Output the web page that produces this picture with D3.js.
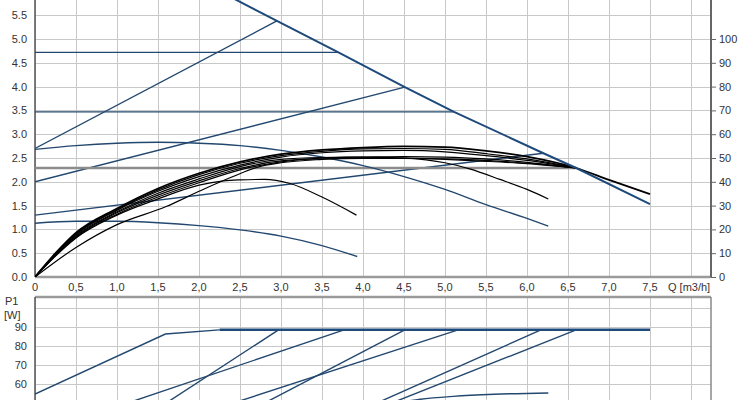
<!DOCTYPE html>
<html>
<head>
<meta charset="utf-8">
<script src="https://cdn.jsdelivr.net/npm/d3@7"></script>
<style>
body{margin:0;background:#fff;}
svg text{font-family:"Liberation Sans",Arial,sans-serif;font-size:11px;fill:#333;}
</style>
</head>
<body>
<div id="canvas"></div>
<script>
// ---- data ----
var qGrid = d3.range(0, 8.01, 0.5);
var qLabels = ['0','0,5','1,0','1,5','2,0','2,5','3,0','3,5','4,0','4,5','5,0','5,5','6,0','6,5','7,0','7,5'];
var hTicks = [0,0.5,1,1.5,2,2.5,3,3.5,4,4.5,5,5.5];
var hGrid = [0.5,1,1.5,2,2.5,3,3.5,4,4.5,5,5.5,6];
var rTicks = [0,10,20,30,40,50,60,70,80,90,100];
var pTicks = [60,70,80,90];
var pGrid = [50,60,70,80,90,100];

// max curve (top envelope)
var hEnvelope = [[2.40,5.87],[2.95,5.38],[3.70,4.72],[4.51,3.99],[5.11,3.47],[6.2,2.6],[6.6,2.29],[7.5,1.53]];
// constant pressure lines
var hConst1 = [[0,4.72],[3.70,4.72]];
var hConst2 = [[0,3.47],[5.11,3.47]];
var hConst3 = [[0,2.29],[6.6,2.29]];
// proportional pressure lines
var hProp1 = [[0,2.70],[2.95,5.38]];
var hProp2 = [[0,2.00],[4.51,3.99]];
var hProp3 = [[0,1.30],[6.2,2.6]];
// fixed speed curves (blue)
var hSpeedA = [[0,2.68],[0.5,2.76],[1,2.81],[1.5,2.83],[2,2.81],[2.5,2.76],[3,2.66],[3.5,2.52],[4,2.34],[4.5,2.11],[5,1.84],[5.5,1.52],[6,1.23],[6.26,1.07]];
var hSpeedB = [[0,1.13],[0.5,1.17],[1,1.17],[1.5,1.14],[2,1.08],[2.5,0.99],[3,0.86],[3.5,0.66],[3.93,0.43]];
// black curves
var hTop = [[0,0],[0.25,0.50],[0.5,0.93],[1,1.44],[1.5,1.86],[2,2.18],[2.5,2.42],[3,2.58],[3.5,2.67],[4,2.72],[4.5,2.745],[5,2.73],[5.5,2.65],[6,2.53],[6.6,2.29],[7,2.04],[7.5,1.74]];
var hM1 = [[0,0],[0.25,0.49],[0.5,0.91],[1,1.42],[1.5,1.83],[2,2.15],[2.5,2.39],[3,2.55],[3.5,2.64],[4,2.69],[4.5,2.70],[5,2.68],[5.5,2.59],[6,2.48],[6.6,2.29]];
var hM2 = [[0,0],[0.25,0.48],[0.5,0.89],[1,1.40],[1.5,1.80],[2,2.11],[2.5,2.35],[3,2.52],[3.5,2.61],[4,2.65],[4.5,2.66],[5,2.63],[5.5,2.55],[6,2.45],[6.6,2.29]];
var hF1 = [[0,0],[0.25,0.47],[0.5,0.87],[1,1.37],[1.5,1.76],[2,2.06],[2.5,2.32],[3,2.47],[3.5,2.51],[4,2.52],[4.5,2.53],[5,2.52],[5.5,2.48],[6,2.41],[6.6,2.29]];
var hF2 = [[0,0],[0.25,0.46],[0.5,0.85],[1,1.35],[1.5,1.72],[2,2.02],[2.5,2.28],[3,2.44],[3.5,2.48],[4,2.49],[4.5,2.49],[5,2.48],[5.5,2.45],[6,2.39],[6.6,2.29]];
var hD = [[0,0],[0.25,0.45],[0.5,0.83],[1,1.32],[1.5,1.68],[2,1.98],[2.5,2.25],[3,2.42],[3.5,2.50],[4,2.52],[4.5,2.50],[4.77,2.46],[5,2.40],[5.3,2.27],[5.67,2.05],[6,1.84],[6.26,1.64]];
var hE = [[0,0],[0.25,0.44],[0.5,0.82],[1,1.30],[1.5,1.64],[2,1.93],[2.3,2.02],[2.5,2.04],[2.8,2.05],[3.1,1.97],[3.5,1.68],[3.92,1.30]];
var hL = [[0,0],[0.5,0.62],[1,1.10],[1.6,1.48],[2,1.80],[2.4,2.10],[2.74,2.32],[3,2.40],[3.5,2.47],[4,2.50],[4.5,2.50],[5,2.47],[5.5,2.43],[6,2.38],[6.6,2.29]];

// power P1 [W]
var pLimit = [[2.25,88.5],[7.5,88.5]];
var pMax = [[0,54.7],[1.59,86.3],[2.25,88.5]];
var pLine1 = [[1.60,50],[2.97,88.5]];
var pLine2 = [[1.13,50],[3.77,88.5]];
var pLine3 = [[2.80,50],[4.51,88.5]];
var pLine4 = [[2.42,50],[5.16,88.5]];
var pLine5 = [[4.17,50],[6.17,88.5]];
var pLine6 = [[4.35,50],[6.60,88.5]];
var pLow = [[4.4,50],[4.7,52],[5.1,53.5],[5.6,54.6],[6.26,55.3]];

// ---- layout ----
var W = 748, H = 400;
var left = 35, right = 711, topBottom = 277, botTop = 297;

var svg = d3.select('#canvas').append('svg')
    .attr('width', W).attr('height', H);

var x = d3.scaleLinear().domain([0,7.5]).range([35,650]);
var y = d3.scaleLinear().domain([0,5.5]).range([277,15.2]);
var yR = d3.scaleLinear().domain([0,110]).range([277,15.2]);
var yP = d3.scaleLinear().domain([60,90]).range([384,327]);

var blue = '#23486f';

svg.append('clipPath').attr('id','clipTop').append('rect')
    .attr('x', left).attr('y', -20).attr('width', right-left).attr('height', topBottom+20);
svg.append('clipPath').attr('id','clipBot').append('rect')
    .attr('x', left).attr('y', botTop).attr('width', right-left).attr('height', 120);

// grid
var grid = svg.append('g').attr('stroke','#c8c8c8').attr('stroke-width',1);
grid.selectAll('.vt').data(qGrid).enter().append('line')
    .attr('x1', function(d){ return Math.round(x(d))+0.5; })
    .attr('x2', function(d){ return Math.round(x(d))+0.5; })
    .attr('y1', -5).attr('y2', topBottom);
grid.selectAll('.vb').data(qGrid).enter().append('line')
    .attr('x1', function(d){ return Math.round(x(d))+0.5; })
    .attr('x2', function(d){ return Math.round(x(d))+0.5; })
    .attr('y1', botTop).attr('y2', H);
grid.selectAll('.ht').data(hGrid).enter().append('line')
    .attr('x1', left).attr('x2', right)
    .attr('y1', function(d){ return Math.round(y(d))+0.5; })
    .attr('y2', function(d){ return Math.round(y(d))+0.5; });
grid.selectAll('.hb').data(pGrid).enter().append('line')
    .attr('x1', left).attr('x2', right)
    .attr('y1', function(d){ return Math.round(yP(d))+0.5; })
    .attr('y2', function(d){ return Math.round(yP(d))+0.5; });

// axes frame
svg.append('line').attr('x1',left).attr('x2',right).attr('y1',topBottom).attr('y2',topBottom)
    .attr('stroke','#9a9a9a').attr('stroke-width',2.5);
svg.append('line').attr('x1',left).attr('x2',right).attr('y1',botTop).attr('y2',botTop)
    .attr('stroke','#9a9a9a').attr('stroke-width',2.5);
svg.append('line').attr('x1',left).attr('x2',left).attr('y1',0).attr('y2',topBottom)
    .attr('stroke','#555').attr('stroke-width',1.5);
svg.append('line').attr('x1',left).attr('x2',left).attr('y1',botTop).attr('y2',H)
    .attr('stroke','#555').attr('stroke-width',1.5);
svg.append('line').attr('x1',right).attr('x2',right).attr('y1',0).attr('y2',topBottom)
    .attr('stroke','#666').attr('stroke-width',2);
svg.append('line').attr('x1',right).attr('x2',right).attr('y1',botTop).attr('y2',H)
    .attr('stroke','#888').attr('stroke-width',1.5);

// right axis (ticks outward)
var axisR = d3.axisRight(yR).tickValues(rTicks).tickSize(5).tickPadding(3);
var gR = svg.append('g').attr('transform','translate(' + right + ',0)').call(axisR);
gR.select('.domain').remove();
gR.selectAll('line').attr('stroke','#666');
gR.selectAll('text').style('font-family','"Liberation Sans",Arial,sans-serif').style('font-size','11px').attr('fill','#333');

// left labels
svg.selectAll('.hl').data(hTicks).enter().append('text')
    .attr('x', 27).attr('y', function(d){ return y(d)+4; })
    .attr('text-anchor','end')
    .text(function(d){ return d.toFixed(1); });
svg.selectAll('.pl').data(pTicks).enter().append('text')
    .attr('x', 27).attr('y', function(d){ return yP(d)+4; })
    .attr('text-anchor','end')
    .text(function(d){ return d; });
svg.append('text').attr('x',5).attr('y',305).text('P1');
svg.append('text').attr('x',4).attr('y',319).text('[W]');

// x labels
svg.selectAll('.ql').data(qLabels).enter().append('text')
    .attr('x', function(d,i){ return x(i*0.5); })
    .attr('y', 291)
    .attr('text-anchor','middle')
    .text(function(d){ return d; });
svg.append('text').attr('x',668).attr('y',291).text('Q [m3/h]');

// curves
var lineLin = d3.line().x(function(d){ return x(d[0]); }).y(function(d){ return y(d[1]); });
var lineCur = d3.line().x(function(d){ return x(d[0]); }).y(function(d){ return y(d[1]); })
    .curve(d3.curveMonotoneX);
var lineP = d3.line().x(function(d){ return x(d[0]); }).y(function(d){ return yP(d[1]); });
var linePc = d3.line().x(function(d){ return x(d[0]); }).y(function(d){ return yP(d[1]); })
    .curve(d3.curveMonotoneX);

var gTop = svg.append('g').attr('clip-path','url(#clipTop)').attr('fill','none');

[hProp1,hProp2,hProp3,hConst1,hConst2].forEach(function(s){
  gTop.append('path').attr('d', lineLin(s)).attr('stroke', blue).attr('stroke-width',1.4);
});
gTop.append('path').attr('d', lineLin(hConst3)).attr('stroke','#8c8c8c').attr('stroke-width',2.5);
[hSpeedA,hSpeedB].forEach(function(s){
  gTop.append('path').attr('d', lineCur(s)).attr('stroke', blue).attr('stroke-width',1.4);
});
[hL,hE,hD,hF2,hF1,hM2,hM1].forEach(function(s){
  gTop.append('path').attr('d', lineCur(s)).attr('stroke','#000').attr('stroke-width',1.2);
});
gTop.append('path').attr('d', lineCur(hTop)).attr('stroke','#000').attr('stroke-width',1.8);
gTop.append('path').attr('d', lineLin(hEnvelope)).attr('stroke','#1d4a7a').attr('stroke-width',2);

var gBot = svg.append('g').attr('clip-path','url(#clipBot)').attr('fill','none');
[pMax,pLine1,pLine2,pLine3,pLine4,pLine5,pLine6].forEach(function(s){
  gBot.append('path').attr('d', lineP(s)).attr('stroke', blue).attr('stroke-width',1.4);
});
gBot.append('path').attr('d', linePc(pLow)).attr('stroke', blue).attr('stroke-width',1.4);
gBot.append('path').attr('d', lineP(pLimit)).attr('stroke','#1d4a7a').attr('stroke-width',2.5);
</script>
</body>
</html>
